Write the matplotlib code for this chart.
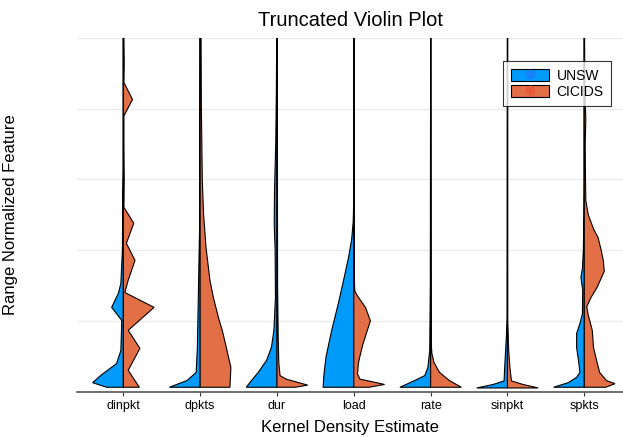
import numpy as np
import matplotlib
matplotlib.use("Agg")
import matplotlib.pyplot as plt
from matplotlib.patches import Patch
from matplotlib.lines import Line2D
from matplotlib.legend_handler import HandlerTuple

plt.rcParams['font.family'] = ['Liberation Sans', 'DejaVu Sans']

categories = ["dinpkt", "dpkts", "dur", "load", "rate", "sinpkt", "spkts"]
series_names = ["UNSW", "CICIDS"]

# Density profiles: (feature value, relative half-width)
unsw_profiles = {
    "dinpkt": ([0.012, 0.025, 0.048, 0.079, 0.116, 0.201, 0.238, 0.278, 0.306, 0.40, 0.55, 0.63, 1.0],
               [0.54, 1.0, 0.70, 0.22, 0.08, 0.05, 0.38, 0.16, 0.08, 0.03, 0.02, 0.0, 0.0]),
    "dpkts": ([0.012, 0.031, 0.054, 0.125, 0.314, 0.456, 0.60, 1.0],
              [1.0, 0.43, 0.13, 0.09, 0.05, 0.02, 0.01, 0.0]),
    "dur": ([0.012, 0.031, 0.054, 0.088, 0.125, 0.173, 0.266, 0.40, 0.476, 0.57, 0.70, 0.85, 1.0],
            [1.0, 0.83, 0.61, 0.34, 0.18, 0.10, 0.05, 0.06, 0.09, 0.08, 0.04, 0.02, 0.01]),
    "load": ([0.012, 0.05, 0.10, 0.173, 0.25, 0.32, 0.38, 0.43, 0.48, 0.55, 1.0],
             [1.0, 0.97, 0.90, 0.72, 0.50, 0.32, 0.17, 0.07, 0.02, 0.0, 0.0]),
    "rate": ([0.012, 0.031, 0.045, 0.068, 0.116, 0.30, 1.0],
             [1.0, 0.52, 0.19, 0.09, 0.03, 0.01, 0.0]),
    "sinpkt": ([0.010, 0.020, 0.030, 0.068, 0.116, 0.164, 0.21, 1.0],
               [1.0, 0.46, 0.11, 0.09, 0.06, 0.03, 0.01, 0.0]),
    "spkts": ([0.012, 0.025, 0.040, 0.054, 0.088, 0.125, 0.164, 0.193, 0.22, 0.286, 0.323, 0.348, 0.40, 0.50, 0.60, 1.0],
              [1.0, 0.52, 0.25, 0.14, 0.19, 0.25, 0.25, 0.14, 0.06, 0.05, 0.11, 0.06, 0.03, 0.01, 0.0, 0.0]),
}
cicids_profiles = {
    "dinpkt": ([0.012, 0.060, 0.122, 0.173, 0.238, 0.280, 0.315, 0.371, 0.419, 0.476, 0.521, 0.60, 0.70, 0.78, 0.826, 0.874, 0.93, 1.0],
               [0.52, 0.16, 0.54, 0.16, 1.0, 0.05, 0.16, 0.38, 0.10, 0.34, 0.02, 0.03, 0.02, 0.02, 0.30, 0.02, 0.03, 0.02]),
    "dpkts": ([0.012, 0.068, 0.125, 0.173, 0.201, 0.266, 0.314, 0.408, 0.504, 0.598, 0.80, 1.0],
              [0.97, 1.0, 0.85, 0.72, 0.62, 0.43, 0.32, 0.19, 0.11, 0.07, 0.04, 0.03]),
    "dur": ([0.012, 0.018, 0.035, 0.045, 0.08, 0.15, 0.30, 1.0],
            [0.60, 1.0, 0.30, 0.10, 0.06, 0.04, 0.02, 0.01]),
    "load": ([0.012, 0.020, 0.035, 0.05, 0.08, 0.10, 0.135, 0.17, 0.20, 0.238, 0.27, 0.285, 0.35, 1.0],
             [0.50, 1.0, 0.20, 0.12, 0.15, 0.20, 0.30, 0.43, 0.54, 0.38, 0.12, 0.03, 0.01, 0.005]),
    "rate": ([0.012, 0.031, 0.054, 0.082, 0.108, 0.136, 1.0],
             [1.0, 0.61, 0.29, 0.11, 0.04, 0.02, 0.01]),
    "sinpkt": ([0.010, 0.020, 0.030, 0.068, 0.116, 0.20, 1.0],
               [1.0, 0.50, 0.13, 0.08, 0.04, 0.01, 0.01]),
    "spkts": ([0.012, 0.022, 0.031, 0.054, 0.088, 0.125, 0.173, 0.22, 0.24, 0.266, 0.295, 0.34, 0.37, 0.40, 0.435, 0.46, 0.50, 0.54, 0.60, 0.70, 0.77, 0.85, 1.0],
              [0.70, 1.0, 0.72, 0.50, 0.40, 0.30, 0.26, 0.12, 0.08, 0.22, 0.42, 0.65, 0.62, 0.55, 0.45, 0.30, 0.13, 0.05, 0.04, 0.03, 0.05, 0.02, 0.01]),
}

colors = ["#009AFA", "#E26F46"]
dot_colors = ["#1F78FF", "#EA5538"]
half_width = 0.4

fig = plt.figure(figsize=(6.23, 4.37), dpi=100)
ax = fig.add_axes([77 / 623, (437 - 391.5) / 437, 1 - 77 / 623, (391.5 - 38) / 437])

for i, cat in enumerate(categories):
    xc = i + 1
    for side, (profiles, col) in enumerate(zip([unsw_profiles, cicids_profiles], colors)):
        yv, wv = profiles[cat]
        yv = np.asarray(yv)
        wv = np.asarray(wv) * half_width
        sign = -1 if side == 0 else 1
        xs = np.concatenate([[xc], xc + sign * wv, [xc]])
        ys = np.concatenate([[yv[0]], yv, [yv[-1]]])
        ax.fill(xs, ys, facecolor=col, edgecolor="black", linewidth=0.8, zorder=3)

ax.set_xlim(0.397, 7.504)
ax.set_ylim(0, 1.0)
ax.set_xticks(range(1, len(categories) + 1))
ax.set_xticklabels(categories, fontsize=9)
ax.set_yticks([0.2, 0.4, 0.6, 0.8, 1.0])
ax.set_yticklabels([])
ax.tick_params(axis="y", length=0)
ax.tick_params(axis="x", length=3, width=0.8, color="#333333", pad=3)
ax.grid(axis="y", color="#EBEBEB", linewidth=1.0)
ax.set_axisbelow(True)
for s in ["top", "right", "left"]:
    ax.spines[s].set_visible(False)
ax.spines["bottom"].set_color("#555555")
ax.spines["bottom"].set_linewidth(1.2)

ax.set_title("Truncated Violin Plot", fontsize=14.5, pad=9)
ax.set_xlabel("Kernel Density Estimate", fontsize=12, labelpad=6)
ax.set_ylabel("Range Normalized Feature", fontsize=12)
ax.yaxis.set_label_coords(-(77 - 18) / 546, 0.5)

handles = []
for col, dc in zip(colors, dot_colors):
    p = Patch(facecolor=col, edgecolor="black", linewidth=0.8)
    m = Line2D([], [], linestyle="none", marker="o", markersize=7,
               markerfacecolor=dc, markeredgecolor="none", alpha=0.75)
    handles.append((p, m))
leg = ax.legend(handles, series_names, handler_map={tuple: HandlerTuple(ndivide=1, pad=0)},
                loc="upper left", bbox_to_anchor=((503 - 77) / 546, (391.5 - 61) / 353.5),
                fontsize=10, frameon=True, fancybox=False, edgecolor="black",
                handlelength=2.75, handleheight=0.95, labelspacing=0.15, borderpad=0.55,
                handletextpad=0.55, borderaxespad=0)
leg.get_frame().set_linewidth(0.8)

fig.savefig("out.png", dpi=100)
